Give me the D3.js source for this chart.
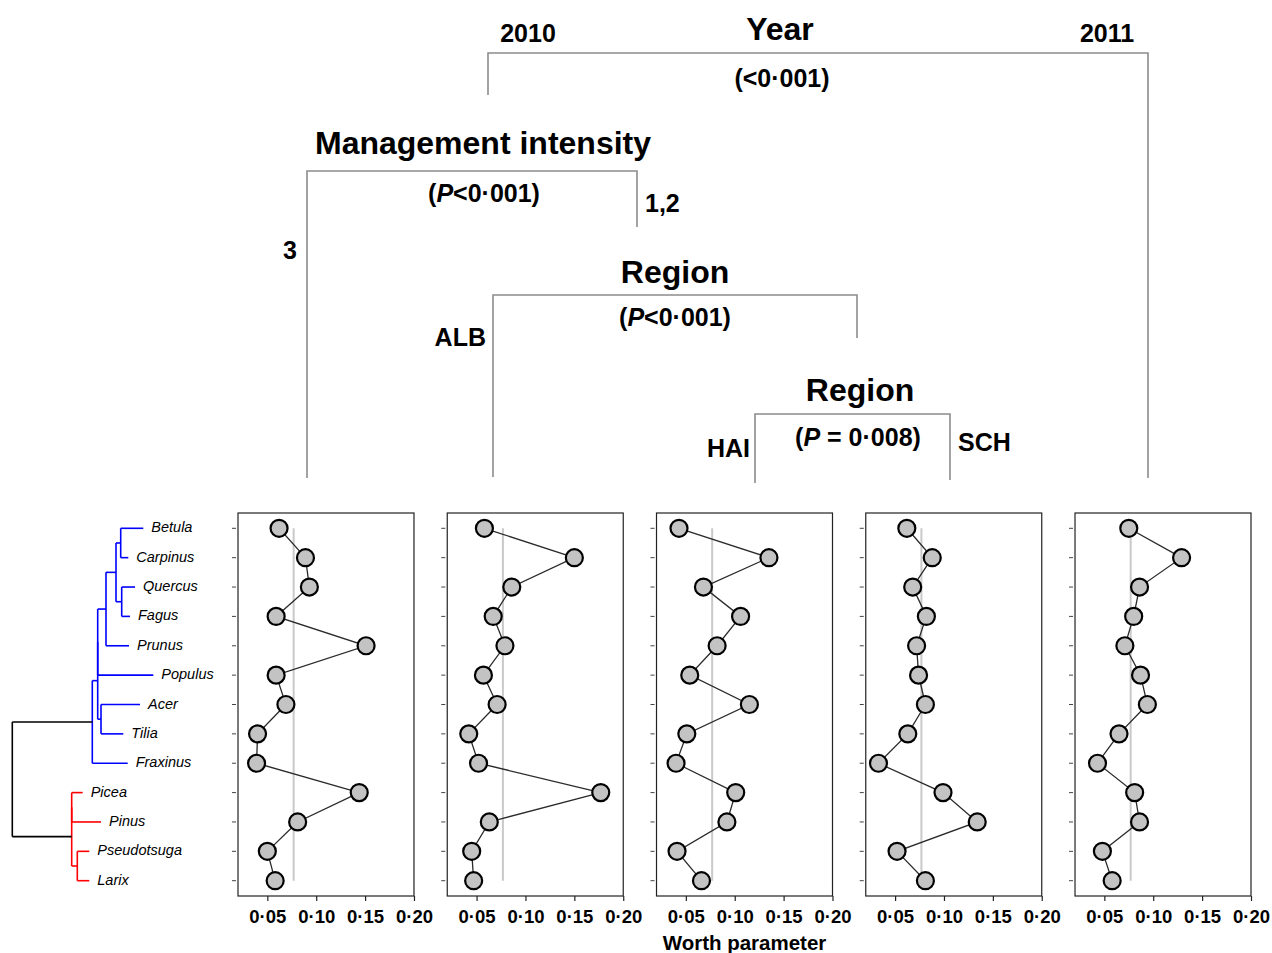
<!DOCTYPE html>
<html><head><meta charset="utf-8">
<script src="https://cdn.jsdelivr.net/npm/d3@7"></script>
<style>
body{margin:0;background:#fff}
svg{display:block}
text{font-family:"Liberation Sans",Arial,Helvetica,sans-serif}
</style>
</head><body>
<svg id="chart" width="1272" height="953"></svg>
<script>
// Tree species, top to bottom
const species = ["Betula","Carpinus","Quercus","Fagus","Prunus","Populus","Acer","Tilia","Fraxinus","Picea","Pinus","Pseudotsuga","Larix"];

// Worth parameters for each terminal node of the split tree
const worthMI3_2010 = [0.062,0.089,0.093,0.059,0.151,0.059,0.069,0.040,0.039,0.144,0.081,0.050,0.058];
const worthALB_2010 = [0.058,0.150,0.086,0.067,0.079,0.057,0.071,0.042,0.052,0.177,0.063,0.045,0.047];
const worthHAI_2010 = [0.043,0.135,0.068,0.106,0.082,0.054,0.115,0.051,0.040,0.101,0.092,0.041,0.066];
const worthSCH_2010 = [0.062,0.088,0.068,0.082,0.072,0.074,0.081,0.063,0.033,0.099,0.134,0.052,0.081];
const worth2011     = [0.075,0.129,0.086,0.080,0.071,0.087,0.094,0.065,0.043,0.081,0.086,0.048,0.058];
const panels = [worthMI3_2010, worthALB_2010, worthHAI_2010, worthSCH_2010, worth2011];

const worthTicks = [0.05, 0.10, 0.15, 0.20];
const worthDomain = [0.02, 0.20];

// Phylogeny of the tree genera (Newick, branch lengths)
const phylogeny = "(((((((Betula:0.226,Carpinus:0.076):0.047,(Quercus:0.133,Fagus:0.083):0.057):0.10,Prunus:0.23):0.083,Populus:0.556):0,(Acer:0.39,Tilia:0.223):0.033):0.054,Fraxinus:0.354)Angiosperms:0.80,((Picea:0.11,Pinus:0.293):0,(Pseudotsuga:0.12,Larix:0.12):0.056)Gymnosperms:0.594);";
const cladeColours = {Angiosperms: "#0000ff", Gymnosperms: "#ff0000"};

// Split tree of the Bradley-Terry model: variable, test result, branch labels
const splitVariables = ["Year", "Management intensity", "Region", "Region"];
const splitTests = ["(<0·001)", "(P<0·001)", "(P<0·001)", "(P = 0·008)"];
const splitLeftLabels = ["2010", "3", "ALB", "HAI"];
const splitRightLabels = ["2011", "1,2", "", "SCH"];

const svg = d3.select("#chart");

// ---------- panels ----------
const panelTop = 513, panelH = 383;
const band = d3.scaleBand().domain(d3.range(panels.length)).range([238, 1251]).paddingInner(0.159);
const panelW = band.bandwidth();
const x = d3.scaleLinear().domain(worthDomain).range([0, panelW]);
const y = d3.scalePoint().domain(species).range([15.3, 367.7]);
const fmt = d => d3.format(".2f")(d).replace(".", "·");
const equalWorth = 1 / species.length;

panels.forEach((vals, i) => {
  const g = svg.append("g").attr("transform", `translate(${band(i)},${panelTop})`);
  // equal-worth reference line
  g.append("line")
    .attr("x1", x(equalWorth)).attr("x2", x(equalWorth))
    .attr("y1", y(species[0])).attr("y2", y(species[species.length - 1]))
    .attr("stroke", "#c9c9c9").attr("stroke-width", 2);
  // frame
  g.append("rect").attr("x", 0).attr("y", 0).attr("width", panelW).attr("height", panelH)
    .attr("fill", "none").attr("stroke", "#222").attr("stroke-width", 1.2);
  // species ticks
  g.selectAll("line.yt").data(species).join("line").attr("class", "yt")
    .attr("x1", -6).attr("x2", -2).attr("y1", d => y(d)).attr("y2", d => y(d))
    .attr("stroke", "#444").attr("stroke-width", 1);
  // worth axis
  const ax = g.append("g").attr("transform", `translate(0,${panelH})`)
    .call(d3.axisBottom(x).tickValues(worthTicks).tickSize(5).tickPadding(9).tickFormat(fmt));
  ax.select(".domain").remove();
  ax.selectAll("line").attr("stroke", "#222").attr("stroke-width", 1.2);
  ax.selectAll("text").attr("font-size", 18.5).attr("font-weight", "bold").attr("fill", "#000")
    .attr("font-family", '"Liberation Sans",Arial,sans-serif');
  // profile
  const pts = species.map((s, k) => [x(vals[k]), y(s)]);
  g.append("path").attr("d", d3.line()(pts)).attr("fill", "none")
    .attr("stroke", "#2a2a2a").attr("stroke-width", 1.3);
  g.selectAll("circle").data(vals).join("circle")
    .attr("cx", d => x(d)).attr("cy", (d, k) => y(species[k])).attr("r", 8.5)
    .attr("fill", "#c3c3c3").attr("stroke", "#000").attr("stroke-width", 2.2);
});

svg.append("text").attr("x", band(2) + panelW / 2).attr("y", 950).attr("text-anchor", "middle")
  .attr("font-size", 20.5).attr("font-weight", "bold").text("Worth parameter");

// ---------- phylogeny ----------
function parseNewick(s) {
  let i = 0;
  function node() {
    const n = {children: []};
    if (s[i] === "(") {
      i++;
      n.children.push(node());
      while (s[i] === ",") { i++; n.children.push(node()); }
      i++;
    }
    let name = "";
    while (i < s.length && !":,);".includes(s[i])) name += s[i++];
    n.name = name;
    n.length = 0;
    if (s[i] === ":") {
      i++;
      let num = "";
      while (i < s.length && !",);".includes(s[i])) num += s[i++];
      n.length = +num;
    }
    return n;
  }
  return node();
}
const root = d3.hierarchy(parseNewick(phylogeny), d => d.children.length ? d.children : null);
root.each(n => {
  n.dist = n.parent ? n.parent.dist + n.data.length : 0;
  n.colour = cladeColours[n.data.name] || (n.parent ? n.parent.colour : "#000");
});
root.eachAfter(n => {
  if (!n.children) n.row = y(n.data.name);
  else n.row = (n.children[0].row + n.children[n.children.length - 1].row) / 2;
});
const tx = d3.scaleLinear().domain([0, 1]).range([12.3, 112.3]);
const tree = svg.append("g").attr("transform", `translate(0,${panelTop})`);
root.descendants().forEach(n => {
  if (n.children) {
    tree.append("line").attr("x1", tx(n.dist)).attr("x2", tx(n.dist))
      .attr("y1", n.children[0].row).attr("y2", n.children[n.children.length - 1].row)
      .attr("stroke", n.colour).attr("stroke-width", 1.6);
  }
  if (n.parent) {
    tree.append("line").attr("x1", tx(n.parent.dist)).attr("x2", tx(n.dist))
      .attr("y1", n.row).attr("y2", n.row)
      .attr("stroke", n.parent.colour).attr("stroke-width", 1.6);
  }
});
tree.selectAll("text").data(root.leaves()).join("text")
  .attr("x", d => tx(d.dist) + 8).attr("y", d => d.row - 1).attr("dy", "0.35em")
  .attr("font-size", 14.5).attr("font-style", "italic").text(d => d.data.name);

// ---------- split tree ----------
const bracketLayout = [
  {x0: 488, x1: 1148, y: 53,  leftEnd: 95,  rightEnd: 478, head: [780, 40], test: [782, 87],
   lab0: [528, 42, "middle"], lab1: [1107, 42, "middle"]},
  {x0: 307, x1: 637,  y: 171, leftEnd: 478, rightEnd: 227, head: [483, 154], test: [484, 202],
   lab0: [290, 259, "middle"], lab1: [645, 212, "start"]},
  {x0: 493, x1: 857,  y: 295, leftEnd: 477, rightEnd: 338, head: [675, 283], test: [675, 326],
   lab0: [486, 346, "end"], lab1: [0, 0, "start"]},
  {x0: 755, x1: 950,  y: 414, leftEnd: 483, rightEnd: 480, head: [860, 401], test: [858, 446],
   lab0: [750, 457, "end"], lab1: [958, 451, "start"]}
];
const st = svg.append("g");
bracketLayout.forEach((b, i) => {
  const p = d3.path();
  p.moveTo(b.x0, b.leftEnd); p.lineTo(b.x0, b.y); p.lineTo(b.x1, b.y); p.lineTo(b.x1, b.rightEnd);
  st.append("path").attr("d", p.toString()).attr("fill", "none")
    .attr("stroke", "#8c8c8c").attr("stroke-width", 1.6);
  st.append("text").attr("x", b.head[0]).attr("y", b.head[1]).attr("text-anchor", "middle")
    .attr("font-size", 32).attr("font-weight", "bold").text(splitVariables[i]);
  // test result, with the P in italics
  const t = st.append("text").attr("x", b.test[0]).attr("y", b.test[1]).attr("text-anchor", "middle")
    .attr("font-size", 25).attr("font-weight", "bold");
  const s = splitTests[i];
  const pIdx = s.indexOf("P");
  if (pIdx >= 0) {
    t.append("tspan").text(s.slice(0, pIdx));
    t.append("tspan").attr("font-style", "italic").text("P");
    t.append("tspan").text(s.slice(pIdx + 1));
  } else t.text(s);
  st.append("text").attr("x", b.lab0[0]).attr("y", b.lab0[1]).attr("text-anchor", b.lab0[2])
    .attr("font-size", 25).attr("font-weight", "bold").text(splitLeftLabels[i]);
  if (splitRightLabels[i])
    st.append("text").attr("x", b.lab1[0]).attr("y", b.lab1[1]).attr("text-anchor", b.lab1[2])
      .attr("font-size", 25).attr("font-weight", "bold").text(splitRightLabels[i]);
});
</script>
</body></html>
